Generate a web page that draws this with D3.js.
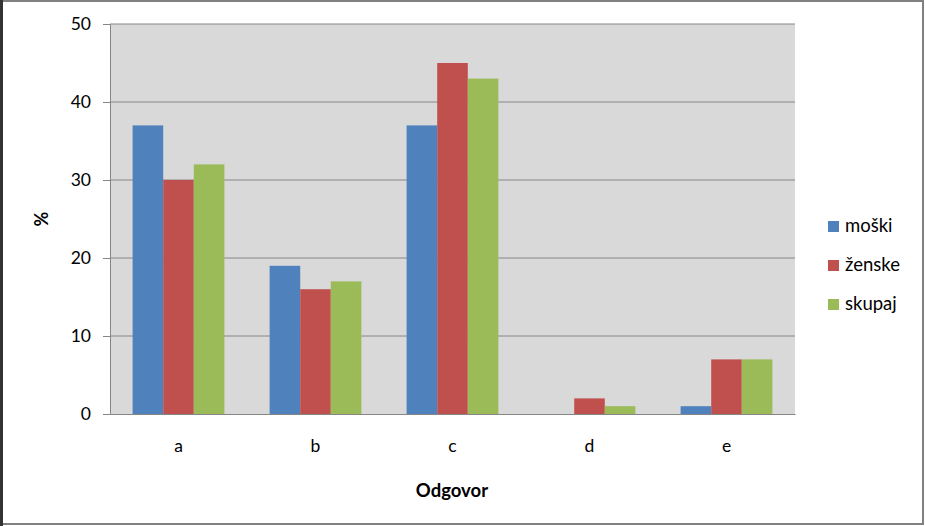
<!DOCTYPE html>
<html><head><meta charset="utf-8">
<script src="https://cdn.jsdelivr.net/npm/d3@7"></script>
<style>body{margin:0;background:#fff}svg{display:block}text{font-family:Lato,"Open Sans",sans-serif}</style>
</head><body>
<svg id="c" width="925" height="526"></svg>
<script>
const categories = ["a","b","c","d","e"];
const seriesNames = ["moški","ženske","skupaj"];
const moski = [37,19,37,0,1];
const zenske = [30,16,45,2,7];
const skupaj = [32,17,43,1,7];
const yTicks = [0,10,20,30,40,50];
const colors = ["#4f81bd","#c0504d","#9bbb59"];
const seriesValues = [moski, zenske, skupaj];

const svg = d3.select("#c");
// frame
svg.append("rect").attr("x",0).attr("y",0).attr("width",925).attr("height",526).attr("fill","#fff");
svg.append("rect").attr("x",1).attr("y",1).attr("width",922).attr("height",523).attr("fill","none").attr("stroke","#808080").attr("stroke-width",2);
svg.append("rect").attr("x",0).attr("y",0).attr("width",3).attr("height",526).attr("fill","#333");

const L=110,R=795,T=24,B=414;
const y = d3.scaleLinear().domain([0,50]).range([B,T]);
const x0 = d3.scaleBand().domain(categories).range([L,R]);
const bw = x0.bandwidth();
const x1 = d3.scaleBand().domain(seriesNames).range([bw*0.165,bw*0.835]);

svg.append("rect").attr("x",L).attr("y",T).attr("width",R-L).attr("height",B-T).attr("fill","#d9d9d9");

const yAxis = d3.axisLeft(y).tickValues(yTicks).tickSize(7).tickPadding(12);
const ga = svg.append("g").attr("transform",`translate(${L},0)`).call(yAxis);
ga.select(".domain").attr("stroke","#868686");
ga.selectAll(".tick line").attr("stroke","#868686");
ga.selectAll(".tick text").attr("font-size",17.5).attr("fill","#000");
// grid
svg.append("g").selectAll("line").data(yTicks.filter(d=>d>0)).join("line")
  .attr("x1",L).attr("x2",R).attr("y1",d=>y(d)).attr("y2",d=>y(d)).attr("stroke","#868686");

const groups = svg.append("g").selectAll("g").data(categories).join("g")
  .attr("transform",d=>`translate(${x0(d)},0)`);
groups.selectAll("rect").data((c,i)=>seriesNames.map((s,j)=>({s,j,v:seriesValues[j][i]}))).join("rect")
  .attr("x",d=>x1(d.s)).attr("width",x1.bandwidth())
  .attr("y",d=>y(d.v)).attr("height",d=>B-y(d.v)).attr("fill",d=>colors[d.j]);

const xAxis = d3.axisBottom(x0).tickSize(0).tickPadding(26);
const gx = svg.append("g").attr("transform",`translate(0,${B})`).call(xAxis);
gx.select(".domain").attr("stroke","#868686");
gx.selectAll(".tick text").attr("font-size",17.5).attr("fill","#000");

svg.append("text").attr("transform","translate(48,219) rotate(-90)").attr("text-anchor","middle")
  .attr("font-size",18).attr("font-weight","bold").text("%");
svg.append("text").attr("x",452).attr("y",497).attr("text-anchor","middle")
  .attr("font-size",18.5).attr("font-weight","bold").text("Odgovor");

const lg = svg.append("g").selectAll("g").data(seriesNames).join("g")
  .attr("transform",(d,i)=>`translate(828,${221+i*39})`);
lg.append("rect").attr("width",11).attr("height",11).attr("fill",(d,i)=>colors[i]);
lg.append("text").attr("x",17).attr("y",11).attr("font-size",18.5).text(d=>d);
</script>
</body></html>
